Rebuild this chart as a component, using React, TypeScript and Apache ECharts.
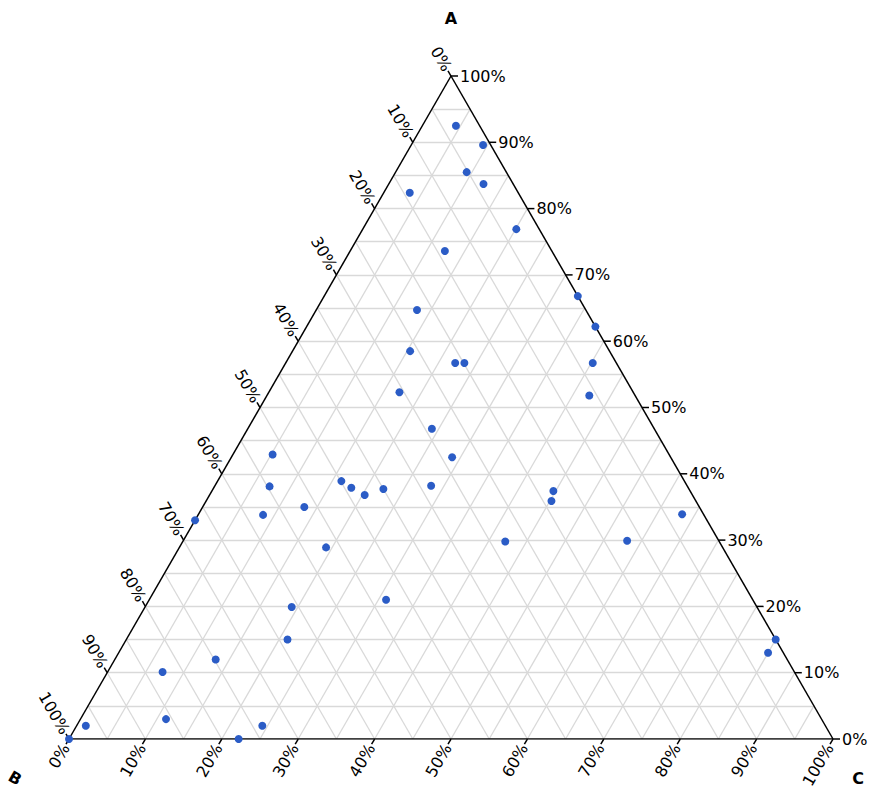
import { useEffect, useRef } from 'react';
import * as echarts from 'echarts';

// Ternary data, in percent (A + B + C = 100)
const A_VALUES = [92.5, 89.6, 85.5, 83.7, 82.4, 76.9, 73.6, 66.8, 62.2, 64.7, 58.5, 56.7, 56.7, 56.7, 52.3, 51.8, 46.8, 42.5, 42.9, 38.1, 38.9, 37.9, 36.8, 37.7, 38.2, 37.4, 35.9, 33.8, 35.0, 33.0, 33.9, 28.9, 29.8, 29.9, 21.0, 19.9, 15.0, 15.0, 13.0, 12.0, 10.1, 3.0, 2.0, 2.0, 0, 0];
const B_VALUES = [3.1, 1.0, 5.2, 3.9, 14.2, 3.0, 14.0, 0, 0, 22.1, 26.1, 21.1, 19.9, 3.1, 30.6, 6.0, 29.1, 28.6, 51.9, 54.7, 44.9, 44.1, 42.9, 40.0, 33.5, 17.9, 18.9, 57.7, 51.7, 67.0, 2.8, 51.9, 28.0, 12.0, 48.0, 60.9, 63.9, 0, 2.0, 74.8, 82.7, 85.8, 96.8, 73.7, 77.8, 100];
const C_VALUES = [4.4, 9.4, 9.3, 12.4, 3.4, 20.1, 12.4, 33.2, 37.8, 13.2, 15.4, 22.2, 23.4, 40.2, 17.1, 42.2, 24.1, 28.9, 5.2, 7.2, 16.2, 18.0, 20.3, 22.3, 28.3, 44.7, 45.2, 8.5, 13.3, 0, 63.3, 19.2, 42.2, 58.1, 31.0, 19.2, 21.1, 85.0, 85.0, 13.2, 7.2, 11.2, 1.2, 24.3, 22.2, 0];

const TICK_PERCENTS = [0, 10, 20, 30, 40, 50, 60, 70, 80, 90, 100];
const TICK_LABELS = TICK_PERCENTS.map((p) => p + '%');
const GRID_PERCENTS = [5, 10, 15, 20, 25, 30, 35, 40, 45, 50, 55, 60, 65, 70, 75, 80, 85, 90, 95];
const VERTEX_LABELS = ['A', 'B', 'C'];

const H = Math.sqrt(3) / 2;
const FONT = '"DejaVu Sans", Verdana, sans-serif';

function toXY(a: number, b: number, c: number): [number, number] {
  const s = a + b + c;
  const an = a / s;
  const cn = c / s;
  return [cn + an / 2, an * H];
}

export default function App() {
  const ref = useRef<HTMLDivElement>(null);

  useEffect(() => {
    if (!ref.current) return;
    const chart = echarts.init(ref.current, null, { renderer: 'svg' });

    // grid lines
    const gridLines: any[] = [];
    GRID_PERCENTS.forEach((p) => {
      const f = p / 100;
      gridLines.push({ coords: [toXY(f, 1 - f, 0), toXY(f, 0, 1 - f)] });
      gridLines.push({ coords: [toXY(1 - f, f, 0), toXY(0, f, 1 - f)] });
      gridLines.push({ coords: [toXY(1 - f, 0, f), toXY(0, 1 - f, f)] });
    });

    const edges = [
      { coords: [toXY(1, 0, 0), toXY(0, 1, 0)] },
      { coords: [toXY(0, 1, 0), toXY(0, 0, 1)] },
      { coords: [toXY(0, 0, 1), toXY(1, 0, 0)] },
    ];

    // ticks: [x, y, axis, tickIndex]
    const tickData: number[][] = [];
    TICK_PERCENTS.forEach((p, i) => {
      const f = p / 100;
      const pa = toXY(f, 0, 1 - f);
      tickData.push([pa[0], pa[1], 0, i]);
      const pb = toXY(1 - f, f, 0);
      tickData.push([pb[0], pb[1], 1, i]);
      const pc = toXY(0, 1 - f, f);
      tickData.push([pc[0], pc[1], 2, i]);
    });
    const vA = toXY(1, 0, 0);
    const vB = toXY(0, 1, 0);
    const vC = toXY(0, 0, 1);
    tickData.push([vA[0], vA[1], 3, 0]);
    tickData.push([vB[0], vB[1], 3, 1]);
    tickData.push([vC[0], vC[1], 3, 2]);

    const points = A_VALUES.map((a, i) => toXY(a, B_VALUES[i], C_VALUES[i]));

    const dirs = [
      [1, 0],
      [-0.5, -H],
      [-0.5, H],
    ];
    const vertexOffsets = [
      [0, -58, 0],
      [-54, 39, -Math.PI / 6],
      [25, 39, 0],
    ];

    chart.setOption({
      animation: false,
      grid: { left: 69, top: 76, width: 764, height: 663 },
      xAxis: { type: 'value', min: 0, max: 1, show: false },
      yAxis: { type: 'value', min: 0, max: H, show: false },
      series: [
        {
          type: 'lines',
          coordinateSystem: 'cartesian2d',
          silent: true,
          z: 1,
          lineStyle: { color: '#d9d9d9', width: 1.3, opacity: 1 },
          data: gridLines,
        },
        {
          type: 'lines',
          coordinateSystem: 'cartesian2d',
          silent: true,
          z: 2,
          lineStyle: { color: '#000', width: 1.5, opacity: 1 },
          data: edges,
        },
        {
          type: 'custom',
          coordinateSystem: 'cartesian2d',
          silent: true,
          z: 3,
          data: tickData,
          renderItem: (params: any, api: any) => {
            const x = api.value(0);
            const y = api.value(1);
            const k = api.value(2);
            const t = api.value(3);
            const [px, py] = api.coord([x, y]);
            if (k === 3) {
              const off = vertexOffsets[t];
              return {
                type: 'text',
                x: px + off[0],
                y: py + off[1],
                rotation: off[2],
                style: {
                  text: VERTEX_LABELS[t],
                  fill: '#000',
                  fontSize: 16,
                  fontWeight: 'bold',
                  fontFamily: FONT,
                  align: 'center',
                  verticalAlign: 'middle',
                },
              };
            }
            const L = k === 0 ? 7 : 6;
            const [dx, dy] = dirs[k];
            const ex = px + dx * L;
            const ey = py + dy * L;
            const label = TICK_LABELS[t];
            let text: any;
            const baseStyle = {
              text: label,
              fill: '#000',
              fontSize: 16,
              fontFamily: FONT,
              verticalAlign: 'middle',
            };
            if (k === 0) {
              text = { type: 'text', x: ex + 2, y: ey, style: { ...baseStyle, align: 'left' } };
            } else if (k === 1) {
              text = {
                type: 'text',
                x: ex + dx * 1,
                y: ey + dy * 1,
                rotation: -Math.PI / 3,
                style: { ...baseStyle, align: 'right' },
              };
            } else {
              text = {
                type: 'text',
                x: ex + dx * 1,
                y: ey + dy * 1,
                rotation: Math.PI / 3,
                style: { ...baseStyle, align: 'right' },
              };
            }
            return {
              type: 'group',
              children: [
                { type: 'line', shape: { x1: px, y1: py, x2: ex, y2: ey }, style: { stroke: '#000', lineWidth: 1.5 } },
                text,
              ],
            };
          },
        },
        {
          type: 'scatter',
          z: 4,
          symbol: 'circle',
          symbolSize: 8,
          itemStyle: { color: '#2b5cc6', opacity: 1 },
          data: points,
        },
      ],
    });

    return () => chart.dispose();
  }, []);

  return (
    <div
      ref={ref}
      style={{ position: 'fixed', left: 0, top: 0, width: 870, height: 789, background: '#fff' }}
    />
  );
}
